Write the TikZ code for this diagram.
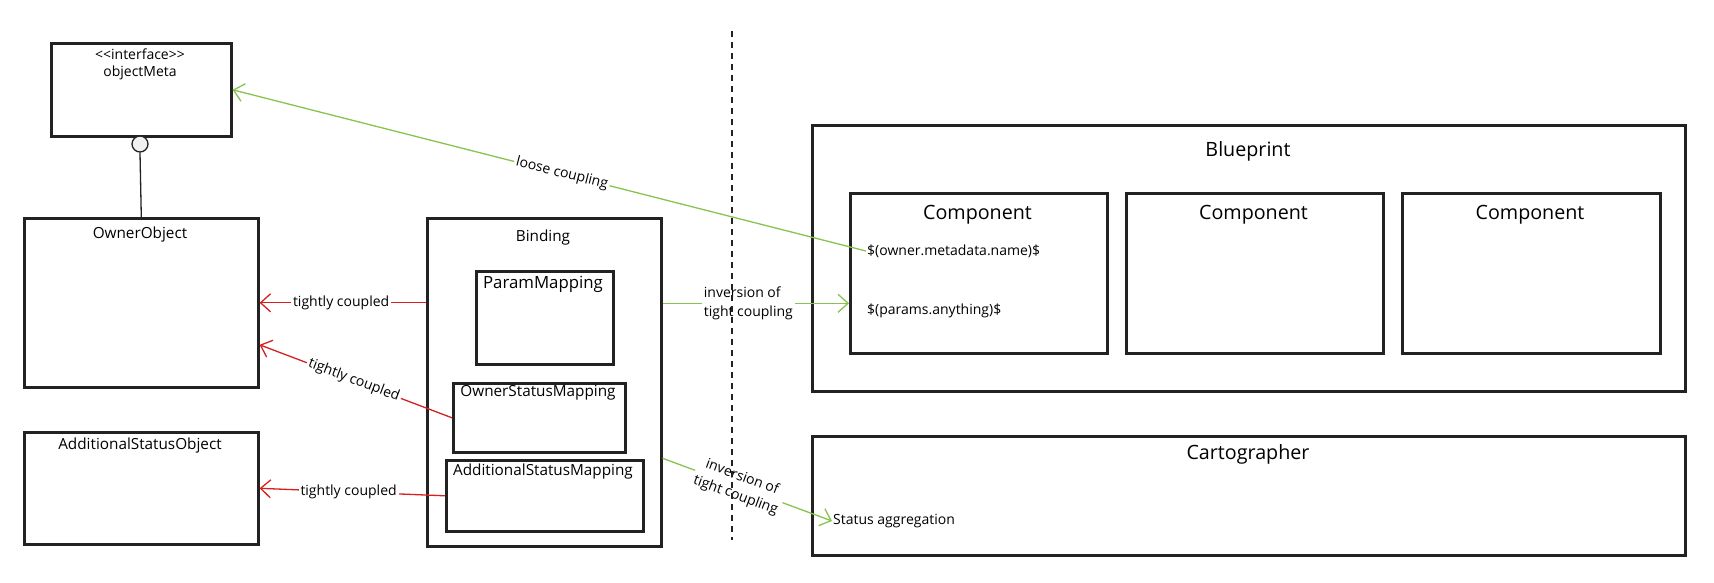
\documentclass[tikz,border=0pt]{standalone}
\usepackage{fontspec}
\setmainfont{Open Sans}
\usepackage{xcolor}
\usepackage{tikz}
\usetikzlibrary{arrows.meta, calc}

\definecolor{loosegreen}{RGB}{134,196,79}
\definecolor{tightred}{RGB}{214,32,32}
\definecolor{boxline}{RGB}{34,34,34}

\tikzset{
  umlbox/.style={draw=boxline, line width=2.6pt, fill=white, anchor=north west, inner sep=0pt},
  boxtitle/.style={font=\fontsize{15.3}{18}\selectfont},
  bigtitle/.style={font=\fontsize{19.7}{23}\selectfont},
  smalltext/.style={font=\fontsize{14}{19}\selectfont},
  couplelabel/.style={smalltext, fill=white, inner sep=2pt},
  tight/.style={draw=tightred, line width=1.3pt, -{Straight Barb[length=10pt,width=18pt]}},
  loose/.style={draw=loosegreen, line width=1.3pt, -{Straight Barb[length=10pt,width=18pt]}},
}

\begin{document}
\begin{tikzpicture}[x=1pt, y=-1pt]

\useasboundingbox (0,0) rectangle (1714,583);

%% ─── Interface ──────────────────────────────────────────────
\node[umlbox, minimum width=180pt, minimum height=93pt] (meta) at (50,42) {};
\node[smalltext] (metastereo) at (140,54) {<{}<interface>{}>};
\node[smalltext] (metaname) at (140,73) {objectMeta};
\node[circle, draw=boxline, fill=gray!12, line width=1.3pt, minimum size=16pt,
  inner sep=0pt] (lolli) at (140,144) {};

%% ─── Owned objects (left) ───────────────────────────────────
\node[umlbox, minimum width=234pt, minimum height=169pt] (owner) at (23,217) {};
\node[boxtitle] (ownertitle) at (140,235) {OwnerObject};
\node[umlbox, minimum width=234pt, minimum height=112pt] (addobj) at (23,431) {};
\node[boxtitle] (addobjtitle) at (140,446) {AdditionalStatusObject};

\draw[boxline, line width=1.3pt] (lolli.south) -- (owner.north);

%% ─── Binding ────────────────────────────────────────────────
\node[umlbox, minimum width=234pt, minimum height=328pt] (binding) at (426,217) {};
\node[boxtitle] (bindingtitle) at (543,238) {Binding};
\node[umlbox, minimum width=137pt, minimum height=93pt] (parammap) at (475,270) {};
\node[font=\fontsize{16.8}{20}\selectfont] (parammaptitle) at (543,284) {ParamMapping};
\node[umlbox, minimum width=172pt, minimum height=69pt] (ownermap) at (452,382) {};
\node[boxtitle] (ownermaptitle) at (538,393) {OwnerStatusMapping};
\node[umlbox, minimum width=197pt, minimum height=71pt] (addmap) at (445,459) {};
\node[boxtitle] (addmaptitle) at (543,472) {AdditionalStatusMapping};

%% ─── Blueprint ──────────────────────────────────────────────
\node[umlbox, minimum width=873pt, minimum height=266pt] (blueprint) at (811,124) {};
\node[bigtitle] (blueprinttitle) at (1248,151) {Blueprint};
\node[umlbox, minimum width=257pt, minimum height=160pt] (comp1) at (849,192) {};
\node[umlbox, minimum width=257pt, minimum height=160pt] (comp2) at (1125,192) {};
\node[umlbox, minimum width=258pt, minimum height=160pt] (comp3) at (1401,192) {};
\node[bigtitle] (comp1title) at (977.5,215) {Component};
\node[bigtitle] (comp2title) at (1253.5,215) {Component};
\node[bigtitle] (comp3title) at (1530,215) {Component};
\node[smalltext, anchor=west, inner sep=1pt] (ownername) at (866,251)
  {\$(owner.metadata.name)\$};
\node[smalltext, anchor=west, inner sep=1pt] (paramsany) at (866,311)
  {\$(params.anything)\$};

%% ─── Cartographer ───────────────────────────────────────────
\node[umlbox, minimum width=873pt, minimum height=119pt] (carto) at (811,435) {};
\node[bigtitle] (cartotitle) at (1248,454) {Cartographer};
\node[smalltext, anchor=west, inner sep=1pt] (statusagg) at (832,521)
  {Status aggregation};

%% ─── Couplings ──────────────────────────────────────────────
\draw[loose] (ownername.west) -- node[couplelabel, pos=0.48, sloped] {loose coupling}
  (meta.east);

\draw[tight] (owner.east -| binding.west) -- node[couplelabel, pos=0.51]
  {tightly coupled} (owner.east);
\draw[tight] (ownermap.west) -- node[couplelabel, pos=0.51, sloped]
  {tightly coupled} ([yshift=-42pt]owner.east);
\draw[tight] (addmap.west) -- node[couplelabel, pos=0.52]
  {tightly coupled} (addobj.east);

\coordinate (paramin) at ([yshift=-30pt]comp1.west);
\draw[loose] (binding.east |- paramin) -- node[couplelabel, pos=0.46, align=left]
  {inversion of\\tight coupling} (paramin);
\draw[loose] ([yshift=-76pt]binding.east) -- node[couplelabel, pos=0.45, sloped,
  align=center] {inversion of\\tight coupling} (statusagg.west);

%% ─── Divider ────────────────────────────────────────────────
\coordinate (divtop) at (732,31);
\coordinate (divbot) at (732,540);
\draw[boxline, line width=1.3pt, dash pattern=on 6pt off 5pt] (divtop) -- (divbot);

\end{tikzpicture}
\end{document}
